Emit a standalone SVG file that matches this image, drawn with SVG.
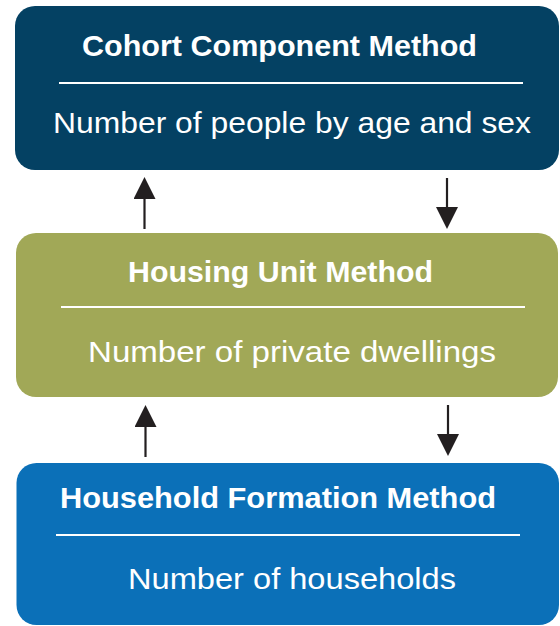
<svg xmlns="http://www.w3.org/2000/svg" width="560" height="626" viewBox="0 0 560 626">
  <style>
    .title { font-family: "Liberation Sans", Arial, sans-serif; font-weight: bold; font-size: 30px; fill: #ffffff; }
    .sub { font-family: "Liberation Sans", Arial, sans-serif; font-weight: normal; font-size: 29px; fill: #ffffff; }
    .rule { stroke: #ffffff; stroke-width: 2; }
    .link { stroke: #231f20; stroke-width: 2.2; fill: none; marker-end: url(#head); }
  </style>
  <defs>
    <marker id="head" markerUnits="userSpaceOnUse" markerWidth="22" markerHeight="22" viewBox="0 0 22 22" refX="2" refY="11" orient="auto">
      <path d="M0,0 L22,11 L0,22 Z" fill="#231f20"/>
    </marker>
  </defs>

  <rect width="560" height="626" fill="#ffffff"/>

  <g id="cohort-component">
    <rect x="15" y="6" width="544" height="164" rx="20" ry="20" fill="#044163"/>
    <text class="title" x="82" y="56" textLength="395" lengthAdjust="spacingAndGlyphs">Cohort Component Method</text>
    <line class="rule" x1="59" y1="83" x2="523" y2="83"/>
    <text class="sub" x="53" y="133" textLength="478" lengthAdjust="spacingAndGlyphs">Number of people by age and sex</text>
  </g>

  <g id="housing-unit">
    <rect x="16" y="233" width="542" height="164" rx="20" ry="20" fill="#a1a857"/>
    <text class="title" x="128" y="282" textLength="305" lengthAdjust="spacingAndGlyphs">Housing Unit Method</text>
    <line class="rule" x1="61" y1="307" x2="525" y2="307"/>
    <text class="sub" x="88" y="362" textLength="408" lengthAdjust="spacingAndGlyphs">Number of private dwellings</text>
  </g>

  <g id="household-formation">
    <rect x="16.5" y="463" width="542.5" height="162" rx="20" ry="20" fill="#0b70b8"/>
    <text class="title" x="60" y="508" textLength="436" lengthAdjust="spacingAndGlyphs">Household Formation Method</text>
    <line class="rule" x1="56" y1="535" x2="520" y2="535"/>
    <text class="sub" x="128" y="589" textLength="328" lengthAdjust="spacingAndGlyphs">Number of households</text>
  </g>

  <g id="connectors">
    <line class="link" x1="144.5" y1="229" x2="144.5" y2="197"/>
    <line class="link" x1="447" y1="178" x2="447" y2="209"/>
    <line class="link" x1="145.5" y1="457" x2="145.5" y2="425"/>
    <line class="link" x1="448" y1="405" x2="448" y2="436"/>
  </g>
</svg>
